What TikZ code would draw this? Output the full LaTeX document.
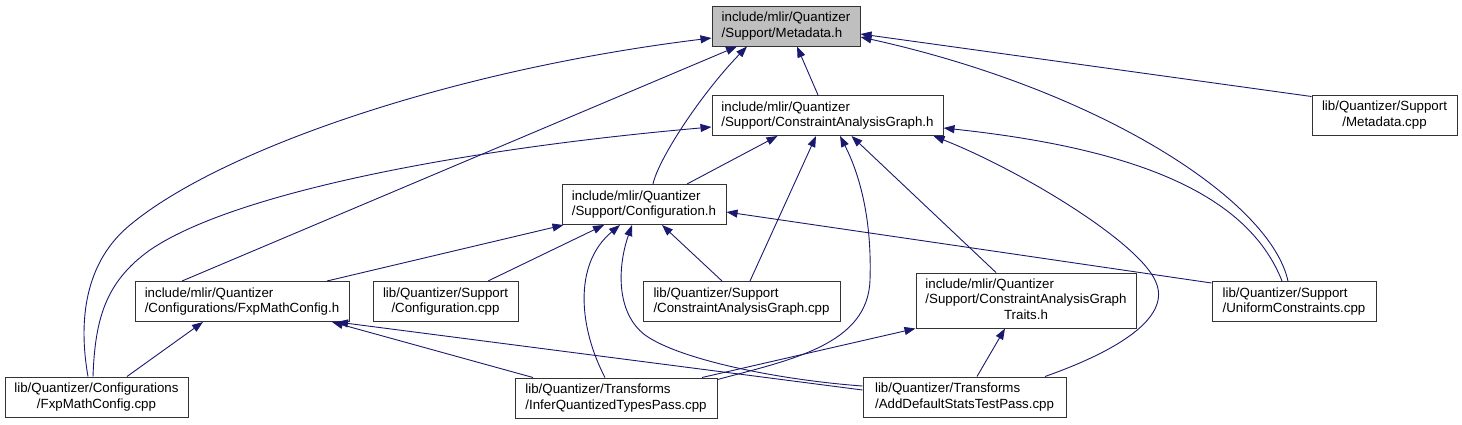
\documentclass[tikz,border=0pt]{standalone}
\usepackage{fontspec}
\setmainfont{Liberation Sans}
\usepackage{tikz}
\usetikzlibrary{arrows.meta}
\definecolor{edgeblue}{RGB}{25,25,112}

\begin{document}
\begin{tikzpicture}[
  x=1pt, y=-1pt,
  file/.style={rectangle, draw=black!80, line width=1pt, fill=white,
    inner sep=0pt, minimum height=40pt, align=left,
    font=\fontsize{13.3}{15.5}\selectfont},
  filec/.style={file, align=center},
  incl/.style={-{Triangle[length=11pt,width=8pt]}, draw=edgeblue, line width=0.9pt}
]
\useasboundingbox (0,0) rectangle (1462,424);

\node[file, fill=black!25, minimum width=148pt] (meta) at (786,26) {include/mlir/Quantizer\\/Support/Metadata.h};
\node[file, minimum width=231pt] (cag) at (827.5,115.5) {include/mlir/Quantizer\\/Support/ConstraintAnalysisGraph.h};
\node[filec, minimum width=145pt] (metacpp) at (1384.5,115) {lib/Quantizer/Support\\/Metadata.cpp};
\node[file, minimum width=164pt] (confh) at (644,204.5) {include/mlir/Quantizer\\/Support/Configuration.h};
\node[file, minimum width=214pt] (fxph) at (242,301.5) {include/mlir/Quantizer\\/Configurations/FxpMathConfig.h};
\node[filec, minimum width=145pt] (confcpp) at (445.5,301.5) {lib/Quantizer/Support\\/Configuration.cpp};
\node[file, minimum width=197pt] (cagcpp) at (741.5,301.5) {lib/Quantizer/Support\\/ConstraintAnalysisGraph.cpp};
\node[file, minimum width=220pt, minimum height=55pt] (traits) at (1026,300.5)
  {\begin{tabular}{@{}l@{}}include/mlir/Quantizer\\/Support/ConstraintAnalysisGraph\\\multicolumn{1}{@{}c@{}}{Traits.h}\end{tabular}};
\node[file, minimum width=164pt] (ucpp) at (1294,301.5) {lib/Quantizer/Support\\/UniformConstraints.cpp};
\node[filec, minimum width=183pt] (fxpcpp) at (96.5,397) {lib/Quantizer/Configurations\\/FxpMathConfig.cpp};
\node[file, minimum width=202pt] (inferq) at (616,398) {lib/Quantizer/Transforms\\/InferQuantizedTypesPass.cpp};
\node[file, minimum width=203pt] (adddef) at (964.5,397) {lib/Quantizer/Transforms\\/AddDefaultStatsTestPass.cpp};

\draw[incl] ([xshift=-9.5pt]cag.north) -- ([xshift=11pt]meta.south);
\draw[incl] ([yshift=-2pt]metacpp.north west) -- ([yshift=-8pt]meta.east);
\draw[incl] ([xshift=-6pt]ucpp.north) .. controls (1270,200) and (1100,90) .. ([yshift=-11pt]meta.east);
\draw[incl] ([xshift=-60pt]fxph.north) -- ([xshift=-49pt]meta.south);
\draw[incl] ([xshift=9pt]confh.north) .. controls (658,160) and (700,95) .. ([xshift=-39pt]meta.south);
\draw[incl] ([xshift=-8.5pt]fxpcpp.north) .. controls (78,320) and (85,262) .. (130,225)
  .. controls (220,150) and (450,70) .. ([yshift=-12pt]meta.west);

\draw[incl] ([xshift=-3.5pt]fxpcpp.north) .. controls (95,320) and (105,282) .. (150,250)
  .. controls (230,195) and (450,150) .. ([yshift=-11.5pt]cag.west);
\draw[incl] ([xshift=43pt]confh.north) -- ([xshift=-50pt]cag.south);
\draw[incl] ([xshift=8.5pt]cagcpp.north) -- ([xshift=-11.5pt]cag.south);
\draw[incl] ([yshift=-2pt]inferq.north east) .. controls (790,360) and (868,345) .. (870,280)
  .. controls (872,220) and (860,175) .. ([xshift=12.5pt]cag.south);
\draw[incl] ([xshift=-30pt]traits.north) -- ([xshift=24pt]cag.south);
\draw[incl] ([xshift=80.5pt]adddef.north) .. controls (1120,350) and (1168,318) .. (1157,285)
  .. controls (1145,245) and (1020,170) .. ([xshift=-10pt]cag.south east);
\draw[incl] ([xshift=-12pt]ucpp.north) .. controls (1250,200) and (1150,150) .. ([yshift=-12.5pt]cag.east);

\draw[incl] ([xshift=85pt]fxph.north) -- ([xshift=2pt]confh.south west);
\draw[incl] ([xshift=42.5pt]confcpp.north) -- ([xshift=-40pt]confh.south);
\draw[incl] ([xshift=-19.5pt]cagcpp.north) -- ([xshift=18pt]confh.south);
\draw[incl] ([xshift=-11pt]inferq.north) .. controls (580,330) and (572,265) .. ([xshift=-24pt]confh.south);
\draw[incl] ([yshift=11pt]adddef.west) .. controls (780,380) and (680,360) .. (645,335)
  .. controls (615,312) and (618,265) .. ([xshift=-12pt]confh.south);
\draw[incl] ([yshift=-2pt]ucpp.north west) -- ([yshift=-7.5pt]confh.east);

\draw[incl] ([xshift=30.5pt]fxpcpp.north) -- ([xshift=-39pt]fxph.south);
\draw[incl] ([xshift=-83pt]inferq.north) -- ([xshift=90pt]fxph.south);
\draw[incl] ([yshift=7pt]adddef.west) -- ([xshift=95pt]fxph.south);

\draw[incl] ([xshift=86pt]inferq.north) -- (traits.south west);
\draw[incl] ([xshift=12.5pt]adddef.north) -- ([xshift=-21pt]traits.south);
\end{tikzpicture}
\end{document}
